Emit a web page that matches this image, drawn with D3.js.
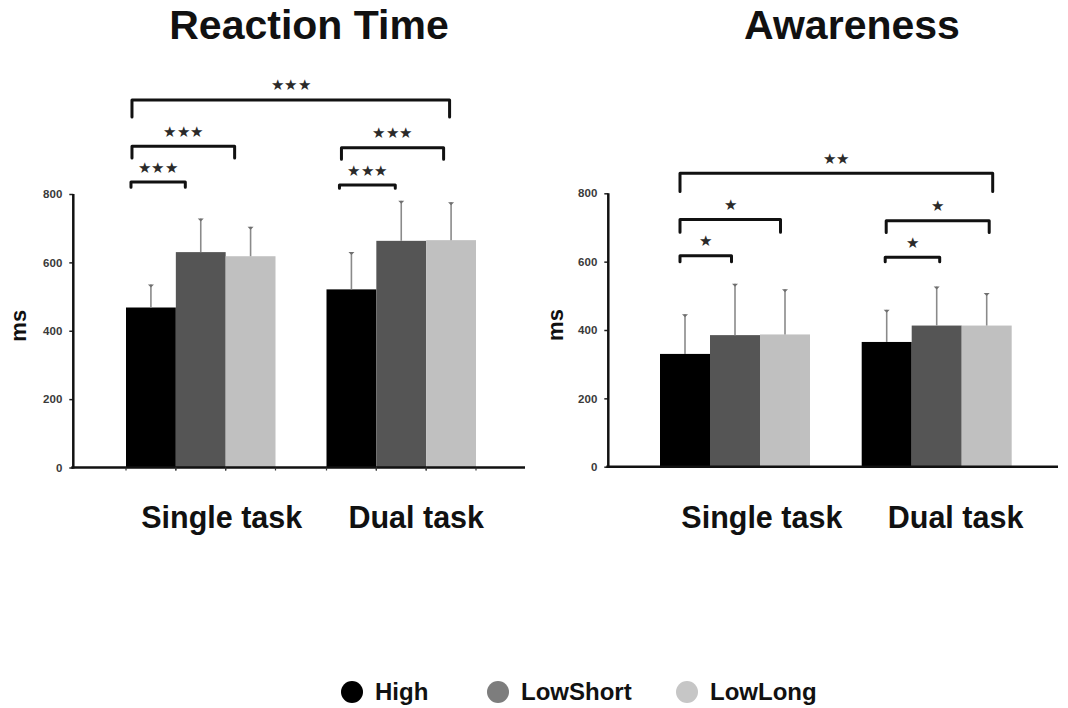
<!DOCTYPE html>
<html>
<head>
<meta charset="utf-8">
<script src="https://cdn.jsdelivr.net/npm/d3@7/dist/d3.min.js"></script>
<style>
  html, body { margin: 0; padding: 0; background: #fff; }
  svg { display: block; }
  text { font-family: "Liberation Sans", Arial, Helvetica, sans-serif; }
</style>
</head>
<body>
<svg id="chart" width="1068" height="708"></svg>
<script>
// ---------- data ----------
const categories = ["Single task", "Dual task"];
const seriesNames = ["High", "LowShort", "LowLong"];
const barColors = ["#000000", "#555555", "#c0c0c0"];
const legendColors = ["#000000", "#7d7d7d", "#c6c6c6"];
const yTicks = [0, 200, 400, 600, 800];

// Reaction time: means and SD per category, in series order
const rtMeans = [[468, 630, 618], [521, 663, 665]];
const rtSD    = [[67, 98, 86],   [109, 117, 111]];

// Awareness
const awMeans = [[330, 385, 387], [365, 413, 413]];
const awSD    = [[116, 150, 132], [94, 114, 95]];

// Significance brackets: [cat, series, fraction across bar] -> [cat, series, fraction], height (ms), leg end (ms), label
const rtBrackets = [
  { from: [0, 0, 0.12], to: [1, 2, 0.47], y: 1075, legEnd: 1025, label: "***" },
  { from: [0, 0, 0.12], to: [0, 2, 0.18], y: 940,  legEnd: 905,  label: "***" },
  { from: [1, 0, 0.30], to: [1, 2, 0.35], y: 935,  legEnd: 902,  label: "***" },
  { from: [0, 0, 0.10], to: [0, 1, 0.19], y: 835,  legEnd: 820,  label: "***" },
  { from: [1, 0, 0.26], to: [1, 1, 0.38], y: 826,  legEnd: 817,  label: "***" }
];
const awBrackets = [
  { from: [0, 0, 0.40], to: [1, 2, 0.62], y: 859, legEnd: 805, label: "**" },
  { from: [0, 0, 0.40], to: [0, 2, 0.41], y: 723, legEnd: 686, label: "*" },
  { from: [1, 0, 0.49], to: [1, 2, 0.55], y: 720, legEnd: 685, label: "*" },
  { from: [0, 0, 0.40], to: [0, 1, 0.43], y: 617, legEnd: 600, label: "*" },
  { from: [1, 0, 0.47], to: [1, 1, 0.56], y: 613, legEnd: 600, label: "*" }
];

// ---------- drawing ----------
const svg = d3.select("#chart");
svg.append("rect").attr("width", 1068).attr("height", 708).attr("fill", "#fff");

function drawPanel(cfg) {
  const g = svg.append("g");
  const y = d3.scaleLinear().domain([0, 800]).range([cfg.yBottom, cfg.yTop]);
  const x0 = d3.scaleBand().domain(categories).range(cfg.x0Range).paddingInner(0).paddingOuter(0);
  const x1 = d3.scaleBand().domain(seriesNames).range(cfg.x1Range).padding(0);

  // title
  g.append("text")
    .attr("x", cfg.titleX).attr("y", 39)
    .attr("text-anchor", "middle")
    .attr("font-size", 41).attr("font-weight", "bold").attr("fill", "#111")
    .text(cfg.title);

  const rows = [];
  categories.forEach((c, ci) => seriesNames.forEach((s, si) => {
    rows.push({ c, s, ci, si, v: cfg.means[ci][si], sd: cfg.sds[ci][si] });
  }));

  // bars
  g.selectAll("rect.bar").data(rows).join("rect")
    .attr("class", "bar")
    .attr("x", d => x0(d.c) + x1(d.s))
    .attr("width", x1.bandwidth())
    .attr("y", d => y(d.v))
    .attr("height", d => y(0) - y(d.v))
    .attr("fill", d => barColors[d.si]);

  // error bars
  const eb = g.selectAll("g.err").data(rows).join("g").attr("class", "err");
  eb.append("line")
    .attr("x1", d => x0(d.c) + x1(d.s) + x1.bandwidth() / 2)
    .attr("x2", d => x0(d.c) + x1(d.s) + x1.bandwidth() / 2)
    .attr("y1", d => y(d.v))
    .attr("y2", d => y(d.v + d.sd))
    .attr("stroke", "#8a8a8a").attr("stroke-width", 1.6);
  eb.append("path")
    .attr("d", d => {
      const cx = x0(d.c) + x1(d.s) + x1.bandwidth() / 2, cy = y(d.v + d.sd);
      return `M${cx - 3},${cy} L${cx + 3},${cy} L${cx},${cy + 3} Z`;
    })
    .attr("fill", "#6f6f6f");

  // y axis
  const yAxis = d3.axisLeft(y).tickValues(yTicks).tickSize(4).tickPadding(7);
  const ya = g.append("g").attr("transform", `translate(${cfg.axisX},0)`).call(yAxis);
  ya.select(".domain").remove();
  ya.selectAll(".tick line").attr("stroke", "#222").attr("stroke-width", 1.5);
  ya.selectAll(".tick text")
    .attr("font-size", 11.5).attr("font-weight", "bold").attr("fill", "#3a3a3a")
    .attr("font-family", "'Liberation Sans', Arial, sans-serif");
  g.append("line")
    .attr("x1", cfg.axisX).attr("x2", cfg.axisX)
    .attr("y1", y(800)).attr("y2", y(0) + 1)
    .attr("stroke", "#111").attr("stroke-width", 2.5);

  // x axis baseline
  g.append("line")
    .attr("x1", cfg.axisX - 2).attr("x2", cfg.axisEnd)
    .attr("y1", y(0)).attr("y2", y(0))
    .attr("stroke", "#111").attr("stroke-width", 2.5);

  if (cfg.edgeTicks) {
    const edges = [];
    rows.forEach(d => { edges.push(x0(d.c) + x1(d.s)); edges.push(x0(d.c) + x1(d.s) + x1.bandwidth()); });
    g.selectAll("line.etick").data(edges).join("line").attr("class", "etick")
      .attr("x1", d => d).attr("x2", d => d)
      .attr("y1", y(0)).attr("y2", y(0) + 3)
      .attr("stroke", "#333").attr("stroke-width", 1.2);
  }

  // y label
  g.append("text")
    .attr("transform", `translate(${cfg.axisX - cfg.msOffset},${(y(0) + y(800)) / 2 - 5}) rotate(-90)`)
    .attr("text-anchor", "middle").attr("dominant-baseline", "central")
    .attr("font-size", 22).attr("font-weight", "bold").attr("fill", "#111")
    .text("ms");

  // category labels
  g.selectAll("text.cat").data(categories).join("text").attr("class", "cat")
    .attr("x", (c, i) => x0(c) + x0.bandwidth() / 2 + cfg.labelShift[i])
    .attr("y", 528)
    .attr("text-anchor", "middle")
    .attr("font-size", 30.5).attr("font-weight", "bold").attr("fill", "#111")
    .text(c => c);

  // brackets
  const px = p => x0(categories[p[0]]) + x1(seriesNames[p[1]]) + p[2] * x1.bandwidth();
  const br = g.selectAll("g.br").data(cfg.brackets).join("g").attr("class", "br");
  br.append("path")
    .attr("d", b => {
      const xa = px(b.from), xb = px(b.to), yy = y(b.y), yl = y(b.legEnd);
      return `M${xa},${yl} L${xa},${yy} L${xb},${yy} L${xb},${yl}`;
    })
    .attr("fill", "none").attr("stroke", "#111").attr("stroke-width", 3)
    .attr("stroke-linejoin", "round").attr("stroke-linecap", "round");
  br.append("text")
    .attr("x", b => (px(b.from) + px(b.to)) / 2)
    .attr("y", b => y(b.y) - 15)
    .attr("text-anchor", "middle").attr("dominant-baseline", "central")
    .attr("font-family", "'DejaVu Sans', sans-serif")
    .attr("font-size", 15).attr("letter-spacing", 0.5).attr("fill", "#2a2a2a")
    .text(b => b.label.replace(/\*/g, "\u2605"));
}

drawPanel({
  title: "Reaction Time", titleX: 309,
  means: rtMeans, sds: rtSD, brackets: rtBrackets,
  yBottom: 467.5, yTop: 194,
  axisX: 73.3, axisEnd: 525,
  x0Range: [100.5, 501.5], x1Range: [25.5, 175],
  labelShift: [21, 15], msOffset: 55, edgeTicks: true
});

drawPanel({
  title: "Awareness", titleX: 852,
  means: awMeans, sds: awSD, brackets: awBrackets,
  yBottom: 466.7, yTop: 193.3,
  axisX: 608.3, axisEnd: 1058,
  x0Range: [634, 1037.4], x1Range: [26, 176],
  labelShift: [27, 19], msOffset: 53, edgeTicks: false
});

// legend
const legendX = [352, 498, 687];
const lg = svg.append("g");
const items = lg.selectAll("g").data(seriesNames).join("g")
  .attr("transform", (d, i) => `translate(${legendX[i]},692)`);
items.append("circle").attr("r", 11).attr("fill", (d, i) => legendColors[i]);
items.append("text")
  .attr("x", 23).attr("y", 8)
  .attr("font-size", 24).attr("font-weight", "bold").attr("fill", "#111")
  .text(d => d);
</script>
</body>
</html>
